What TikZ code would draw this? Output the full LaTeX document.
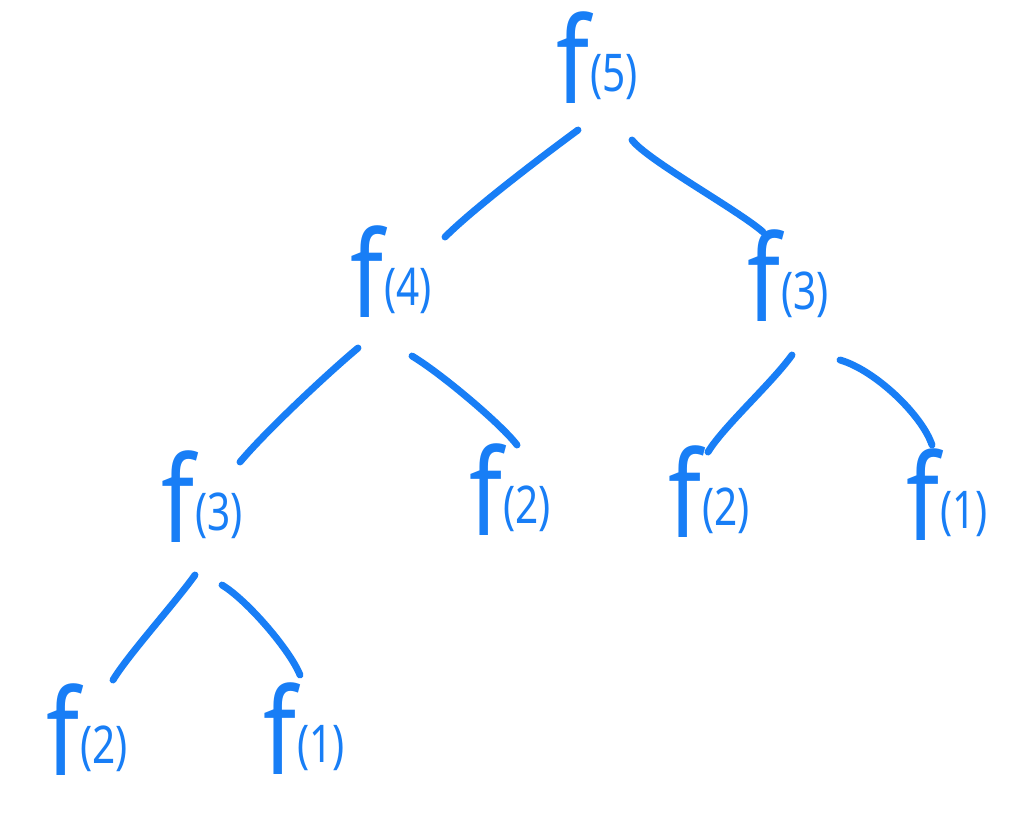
\documentclass[tikz,border=0pt]{standalone}
\usepackage{fontspec}
\setmainfont{Noto Sans}
\usetikzlibrary{calc}
\definecolor{pen}{RGB}{24,126,246}
\newcommand\flabel[1]{\scalebox{0.8}[1]{\fontsize{90}{90}\selectfont f}\kern1pt\raisebox{9pt}{\scalebox{0.78}[1]{\fontsize{39}{39}\selectfont\bfseries(#1)}}}
\tikzset{
  lab/.style={text=pen, inner sep=0pt, font=\fontsize{90}{90}\selectfont},
  stroke/.style={draw=pen, line width=5.2pt, line cap=round, line join=round}
}
\begin{document}
\begin{tikzpicture}[x=0.75pt,y=-0.75pt]
\fill[white] (0,0) rectangle (1024,818);
\useasboundingbox (0,0) rectangle (1024,818);
\node[lab] (n5) at (597,58) {\flabel{5}};
\node[lab] (n4) at (391,272) {\flabel{4}};
\node[lab] (n3r) at (788,276) {\flabel{3}};
\node[lab] (n3l) at (202,497) {\flabel{3}};
\node[lab] (n2m) at (510,490) {\flabel{2}};
\node[lab] (n2r) at (709,492) {\flabel{2}};
\node[lab] (n1r) at (947,495) {\flabel{1}};
\node[lab] (n2bl) at (87,730) {\flabel{2}};
\node[lab] (n1b) at (304,729) {\flabel{1}};
\draw[stroke] ($(n5)+(-19,72)$) .. controls +(-30,22) and +(30,-30) .. ($(n4)+(54,-35)$);
\draw[stroke] ($(n5)+(35,82)$) .. controls +(15,20) and +(-25,-22) .. ($(n3r)+(-25,-44)$);
\draw[stroke] ($(n4)+(-33,76)$) .. controls +(-30,25) and +(25,-30) .. ($(n3l)+(38,-35)$);
\draw[stroke] ($(n4)+(21,84)$) .. controls +(30,18) and +(-15,-20) .. ($(n2m)+(7,-45)$);
\draw[stroke] ($(n3r)+(4,79)$) .. controls +(-20,28) and +(15,-25) .. ($(n2r)+(-1,-40)$);
\draw[stroke] ($(n3r)+(52,84)$) .. controls +(35,10) and +(-10,-30) .. ($(n1r)+(-15,-50)$);
\draw[stroke] ($(n3l)+(-7,78)$) .. controls +(-20,28) and +(15,-25) .. ($(n2bl)+(26,-50)$);
\draw[stroke] ($(n3l)+(20,88)$) .. controls +(25,15) and +(-10,-25) .. ($(n1b)+(-4,-54)$);
\end{tikzpicture}
\end{document}
